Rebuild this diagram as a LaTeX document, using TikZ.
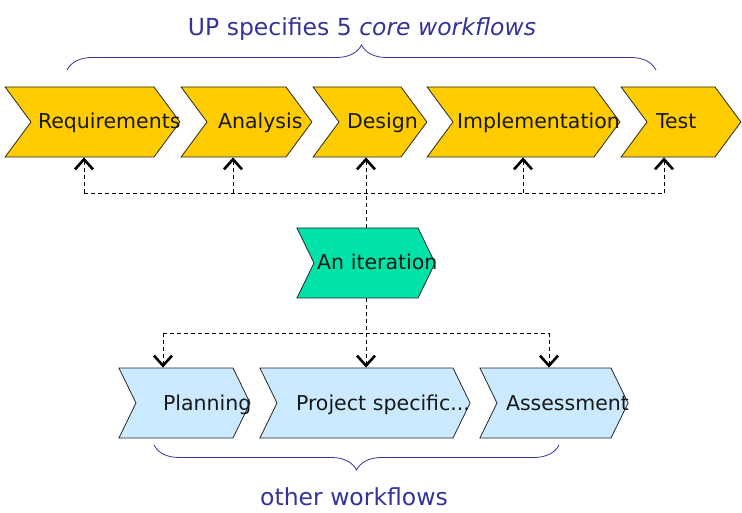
\documentclass[tikz,border=0pt]{standalone}
\usepackage{fontspec}
\setmainfont{DejaVu Sans}
\usetikzlibrary{shapes.symbols,arrows.meta,decorations.pathreplacing}
\definecolor{coreyellow}{RGB}{255,204,0}
\definecolor{itergreen}{RGB}{0,227,168}
\definecolor{otherblue}{RGB}{204,234,255}
\definecolor{bracecol}{RGB}{51,51,153}

\begin{document}
\begin{tikzpicture}[x=1pt,y=-1pt,
	chev/.style={signal, signal from=west, signal to=east, draw=black!85, line width=0.8pt, minimum height=70pt, align=left, text=black!90, text height=17pt, text depth=3pt, font=\fontsize{20.5}{24}\selectfont, execute at begin node={\hyphenpenalty=10000}},
	bus/.style={line width=0.8pt, dash pattern=on 4pt off 3pt},
	link/.style={bus, -{Straight Barb[length=10pt,width=18pt,line width=2.6pt]}},
	wf/.style={bracecol, line width=0.8pt, decorate, decoration={brace, amplitude=25pt}},
	wftext/.style={bracecol, font=\fontsize{23.5}{28}\selectfont}]
	\useasboundingbox (0,0) rectangle (742,513);
	% core workflows
	\node[chev, fill=coreyellow, signal pointer angle=107, text width=109pt, inner xsep=7pt] (req) at (92.5,122) {Requirements};
	\node[chev, fill=coreyellow, signal pointer angle=107, text width=57pt, inner xsep=11pt] (ana) at (246.5,122) {Analysis};
	\node[chev, fill=coreyellow, signal pointer angle=107, text width=46pt, inner xsep=8pt] (des) at (370,122) {Design};
	\node[chev, fill=coreyellow, signal pointer angle=107, text width=133pt, inner xsep=4pt] (imp) at (523.5,122) {Implementation};
	\node[chev, fill=coreyellow, signal pointer angle=107, text width=50pt, inner xsep=9pt] (tst) at (681,122) {Test};
	% the iteration
	\node[chev, fill=itergreen, signal pointer angle=128, text width=98pt, inner xsep=3pt] (itr) at (366,263) {An~iteration};
	% other workflows
	\node[chev, fill=otherblue, signal pointer angle=128, text width=43pt, inner xsep=27pt] (pln) at (184.5,403) {Planning};
	\node[chev, fill=otherblue, signal pointer angle=128, text width=138pt, inner xsep=19pt] (prj) at (365,403) {Project~specific...};
	\node[chev, fill=otherblue, signal pointer angle=128, text width=96pt, inner xsep=9pt] (ass) at (554,403) {Assessment};
	\coordinate (topbus) at (0,193);
	\coordinate (botbus) at (0,333);
	% \draw [red] (itr.north) -- (des.south);
	\draw[bus] (itr.north) -- (itr.north |- topbus);
	\draw[bus] ([xshift=-8.5pt]req.south |- topbus) -- ([xshift=-17pt]tst.south |- topbus);
	\foreach \n/\dx in {req/-8.5, ana/-13.5, des/-4, imp/-0.5, tst/-17}
		\draw[link] ([xshift=\dx pt]\n.south |- topbus) -- ([xshift=\dx pt]\n.south);
	\draw[bus] (itr.south) -- (itr.south |- botbus);
	\draw[bus] ([xshift=-21.5pt]pln.north |- botbus) -- ([xshift=-5pt]ass.north |- botbus);
	\foreach \n/\dx in {pln/-21.5, prj/1, ass/-5}
		\draw[link] ([xshift=\dx pt]\n.north |- botbus) -- ([xshift=\dx pt]\n.north);
	% braces
	\draw[wf] (67,70) -- (656,70);
	\node[wftext] (core) at (362,29) {UP specifies 5 \textit{core workflows}};
	\draw[wf] (559,445) -- (154,445);
	\node[wftext] (other) at (354,497) {other workflows};
\end{tikzpicture}
\end{document}
